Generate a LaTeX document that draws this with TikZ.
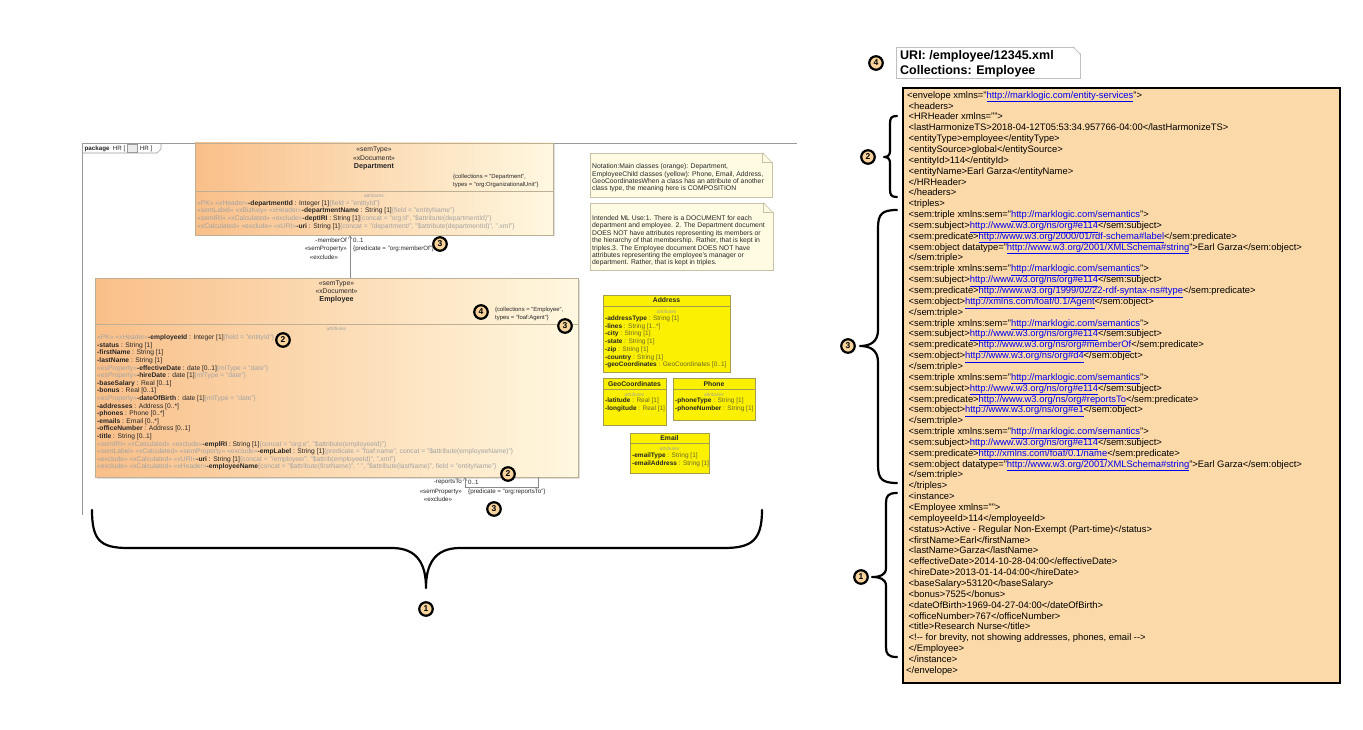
\documentclass[tikz,border=0pt]{standalone}
\usepackage{fontspec}
\setmainfont{Liberation Sans}
\usetikzlibrary{calc,shadows,arrows.meta}
\definecolor{orL}{HTML}{F9BF89}
\definecolor{orR}{HTML}{FFF8E0}
\definecolor{obord}{HTML}{BFAF94}
\definecolor{yel}{HTML}{FAF000}
\definecolor{ybord}{HTML}{A39E4F}
\definecolor{stgray}{HTML}{A3A3A3}
\definecolor{txtd}{HTML}{262626}
\definecolor{ytype}{HTML}{6E6A30}
\definecolor{xmlfill}{HTML}{FCD9A8}
\definecolor{mkfill}{HTML}{F8D49C}
\definecolor{linkblue}{HTML}{0000EE}
\definecolor{notefill}{HTML}{FFFBE3}
\definecolor{noteb}{HTML}{C8C0A8}
\definecolor{framegray}{HTML}{9A9A9A}
\definecolor{assocgray}{HTML}{8A8A8A}
\newcommand{\stg}[1]{\textcolor{stgray}{#1}}
\newcommand{\nmb}[1]{\textbf{#1}}
\newcommand{\yt}[1]{\textcolor{ytype}{#1}}
\newcommand{\lnk}[1]{\textcolor{linkblue}{\underline{#1}}}
\begin{document}
\begin{tikzpicture}[x=1pt,y=-1pt,
  uml/.style={font=\fontsize{6.7}{7.6}\selectfont, inner sep=0, align=left, text=txtd, anchor=west},
  colltext/.style={font=\fontsize{5.9}{8}\selectfont, inner sep=0, align=left, text=txtd, anchor=west},
  umlhead/.style={font=\fontsize{6.8}{8.3}\selectfont, inner sep=0, align=center, text=txtd},
  obox/.style={draw=obord, line width=0.5pt, left color=orL, right color=orR, inner sep=0,
     drop shadow={opacity=0.25, shadow xshift=1.5pt, shadow yshift=-1.5pt}},
  ybox/.style={draw=ybord, fill=yel, inner sep=0, line width=0.5pt},
  attrlbl/.style={font=\fontsize{4.8}{5}\selectfont\itshape, text=stgray, inner sep=0},
  ytitle/.style={font=\fontsize{6.8}{7}\selectfont\bfseries, inner sep=0, text=txtd},
  ylines/.style={font=\fontsize{6.5}{7.7}\selectfont, inner sep=0, align=left, anchor=west, text=txtd},
  numdot/.style={circle, draw=black, line width=2.2pt, fill=mkfill, minimum size=13.5pt, inner sep=0,
     font=\fontsize{8.5}{8.5}\selectfont\bfseries},
  notebox/.style={draw=noteb, fill=notefill, line width=0.5pt, inner sep=0},
  notetext/.style={font=\fontsize{6.8}{7.4}\selectfont, inner sep=0, align=left, anchor=west, text=txtd},
  bracepath/.style={line width=2.2pt, line cap=round, line join=round},
  assoc/.style={draw=assocgray, line width=0.6pt},
  lbl/.style={font=\fontsize{6.2}{6.5}\selectfont, inner sep=0, text=txtd},
]
\useasboundingbox (0,0) rectangle (1363,730);
\fill[white] (0,0) rectangle (1363,730);

% ---------- package frame ----------
\draw[framegray, line width=0.6pt] (82,515) -- (82,143) -- (797,143);
\draw[framegray, line width=0.6pt] (82,153) -- (157,153) -- (161,149) -- (161,143);
\node[lbl, anchor=west] (pk1) at (84.5,148.5) {\textbf{package}\ \ HR [};
\node[draw=framegray, fill=black!8, minimum width=10pt, minimum height=8pt, inner sep=0, line width=0.3pt]
  (pkicon) at ($(pk1.east)+(7,0)$) {};
\node[lbl, anchor=west] (pk2) at ($(pkicon.east)+(2,0)$) {HR ]};

% ---------- Department ----------
\node[obox, minimum width=358, minimum height=92] (dep) at (374,189) {};
\draw[obord, line width=0.4pt] (195,191) -- (553,191);
\node[umlhead] (depH) at (374,158.5) {«semType»\\«xDocument»\\{\fontsize{7.2}{8.3}\selectfont\bfseries Department}};
\node[colltext] (depC) at (453,181) {\{collections = "Department",\\types = "org:OrganizationalUnit"\}};
\node[attrlbl] (depA) at (374,196) {attributes};
\node[uml] (depL) at (197,215) {%
\stg{«PK» «xHeader»}\nmb{-departmentId} : Integer [1]\stg{\{field = "entityId"\}}\\
\stg{«semLabel» «xBizKey» «xHeader»}\nmb{-departmentName} : String [1]\stg{\{field = "entityName"\}}\\
\stg{«semIRI» «xCalculated» «exclude»}\nmb{-deptIRI} : String [1]\stg{\{concat = "org:d", "\$attribute(departmentId)"\}}\\
\stg{«xCalculated» «exclude» «xURI»}\nmb{-uri} : String [1]\stg{\{concat = "/department/", "\$attribute(departmentId)", ".xml"\}}};

% ---------- Employee ----------
\node[obox, minimum width=483, minimum height=199] (emp) at (336.5,377.5) {};
\draw[obord, line width=0.4pt] (95,324) -- (578,324);
\node[umlhead] (empH) at (336.5,292) {«semType»\\«xDocument»\\{\fontsize{7.2}{8.3}\selectfont\bfseries Employee}};
\node[colltext] (empC) at (495,314) {\{collections = "Employee",\\types = "foaf:Agent"\}};
\node[attrlbl] (empA) at (336.5,329) {attributes};
\node[uml] (empL) at (97,402.5) {%
\stg{«PK» «xHeader»}\nmb{-employeeId} : Integer [1]\stg{\{field = "entityId"\}}\\
\nmb{-status} : String [1]\\
\nmb{-firstName} : String [1]\\
\nmb{-lastName} : String [1]\\
\stg{«esProperty»}\nmb{-effectiveDate} : date [0..1]\stg{\{mlType = "date"\}}\\
\stg{«esProperty»}\nmb{-hireDate} : date [1]\stg{\{mlType = "date"\}}\\
\nmb{-baseSalary} : Real [0..1]\\
\nmb{-bonus} : Real [0..1]\\
\stg{«esProperty»}\nmb{-dateOfBirth} : date [1]\stg{\{mlType = "date"\}}\\
\nmb{-addresses} : Address [0..*]\\
\nmb{-phones} : Phone [0..*]\\
\nmb{-emails} : Email [0..*]\\
\nmb{-officeNumber} : Address [0..1]\\
\nmb{-title} : String [0..1]\\
\stg{«semIRI» «xCalculated» «exclude»}\nmb{-emplRI} : String [1]\stg{\{concat = "org:e", "\$attribute(employeeId)"\}}\\
\stg{«semLabel» «xCalculated» «semProperty» «exclude»}\nmb{-empLabel} : String [1]\stg{\{predicate = "foaf:name", concat = "\$attribute(employeeName)"\}}\\
\stg{«exclude» «xCalculated» «xURI»}\nmb{-uri} : String [1]\stg{\{concat = "/employee/", "\$attrib(employeeId)", ".xml"\}}\\
\stg{«exclude» «xCalculated» «xHeader»}\nmb{-employeeName}\stg{\{concat = "\$attribute(firstName)", " ", "\$attribute(lastName)", field = "entityName"\}}};

% ---------- memberOf association ----------
\coordinate (mo) at (350,0);
\draw[assoc, -{Straight Barb[length=3pt,width=4pt]}] (emp.north -| mo) -- (dep.south -| mo);
\node[lbl, anchor=east] (moN) at (347,240) {-memberOf};
\node[lbl, anchor=west] (moM) at (353,240) {0..1};
\node[lbl, anchor=east] (moS) at (347,249) {«semProperty»};
\node[lbl, anchor=west] (moP) at (353,249) {\{predicate = "org:memberOf"\}};
\node[lbl] (moE) at (324,257) {«exclude»};

% ---------- reportsTo self association ----------
\coordinate (rt1) at (465,487);
\coordinate (rt2) at (538,487);
\draw[assoc, {Straight Barb[length=3pt,width=4pt]}-] (emp.south -| rt1) -- (rt1) -- (rt2) -- (emp.south -| rt2);
\node[lbl, anchor=east] (rtN) at (462,482) {-reportsTo};
\node[lbl, anchor=west] (rtM) at (468,482) {0..1};
\node[lbl, anchor=east] (rtS) at (462,492) {«semProperty»};
\node[lbl, anchor=west] (rtP) at (468,492) {\{predicate = "org:reportsTo"\}};
\node[lbl] (rtE) at (438,499.5) {«exclude»};

% ---------- notes ----------
\node[notebox, minimum width=182, minimum height=44] (n1) at (681,175) {};
\fill[white] ($(n1.north east)+(-10,-1)$) -- ($(n1.north east)+(1,-1)$) -- ($(n1.north east)+(1,10)$) -- cycle;
\draw[noteb, line width=0.5pt] ($(n1.north east)+(-10,0)$) -- ($(n1.north east)+(0,10)$);
\draw[noteb, line width=0.5pt] ($(n1.north east)+(-10,0)$) -- ($(n1.north east)+(-10,10)$) -- ($(n1.north east)+(0,10)$);
\node[notetext] (n1t) at (592,178) {Notation:Main classes (orange): Department,\\EmployeeChild classes (yellow): Phone, Email, Address,\\GeoCoordinatesWhen a class has an attribute of another\\class type, the meaning here is COMPOSITION};

\node[notebox, minimum width=183, minimum height=67] (n2) at (681.5,236.5) {};
\fill[white] ($(n2.north east)+(-10,-1)$) -- ($(n2.north east)+(1,-1)$) -- ($(n2.north east)+(1,10)$) -- cycle;
\draw[noteb, line width=0.5pt] ($(n2.north east)+(-10,0)$) -- ($(n2.north east)+(0,10)$);
\draw[noteb, line width=0.5pt] ($(n2.north east)+(-10,0)$) -- ($(n2.north east)+(-10,10)$) -- ($(n2.north east)+(0,10)$);
\node[notetext] (n2t) at (592,241) {Intended ML Use:1. There is a DOCUMENT for each\\department and employee. 2. The Department document\\DOES NOT have attributes representing its members or\\the hierarchy of that membership. Rather, that is kept in\\triples.3. The Employee document DOES NOT have\\attributes representing the employee's manager or\\department. Rather, that is kept in triples.};

% ---------- yellow classes ----------
\node[ybox, minimum width=127, minimum height=77] (addr) at (666.5,333.5) {};
\draw[ybord, line width=0.4pt] (603,306) -- (730,306);
\node[ytitle] (addrT) at (666.5,300.5) {Address};
\node[attrlbl] (addrA) at (666.5,312) {attributes};
\node[ylines] (addrL) at (605,342) {\nmb{-addressType} \yt{: String [1]}\\\nmb{-lines} \yt{: String [1..*]}\\\nmb{-city} \yt{: String [1]}\\\nmb{-state} \yt{: String [1]}\\\nmb{-zip} \yt{: String [1]}\\\nmb{-country} \yt{: String [1]}\\\nmb{-geoCoordinates} \yt{: GeoCoordinates [0..1]}};

\node[ybox, minimum width=63, minimum height=47] (geo) at (634.5,401.5) {};
\draw[ybord, line width=0.4pt] (603,389) -- (666,389);
\node[ytitle] (geoT) at (634.5,384) {GeoCoordinates};
\node[attrlbl] (geoA) at (634.5,395) {attributes};
\node[ylines] (geoL) at (605,405) {\nmb{-latitude} \yt{: Real [1]}\\\nmb{-longitude} \yt{: Real [1]}};

\node[ybox, minimum width=82, minimum height=42] (phone) at (714,399) {};
\draw[ybord, line width=0.4pt] (673,389) -- (755,389);
\node[ytitle] (phoneT) at (714,384) {Phone};
\node[attrlbl] (phoneA) at (714,395) {attributes};
\node[ylines] (phoneL) at (675,405) {\nmb{-phoneType} \yt{: String [1]}\\\nmb{-phoneNumber} \yt{: String [1]}};

\node[ybox, minimum width=79, minimum height=40] (email) at (669.5,453) {};
\draw[ybord, line width=0.4pt] (630,443) -- (709,443);
\node[ytitle] (emailT) at (669.5,438) {Email};
\node[attrlbl] (emailA) at (669.5,449) {attributes};
\node[ylines] (emailL) at (632,460) {\nmb{-emailType} \yt{: String [1]}\\\nmb{-emailAddress} \yt{: String [1]}};

% ---------- markers on diagram ----------
\node[numdot] (k1) at (440,244) {3};
\node[numdot] (k2) at (481,312) {4};
\node[numdot] (k3) at (565,326) {3};
\node[numdot] (k4) at (283,340) {2};
\node[numdot] (k5) at (508,474) {2};
\node[numdot] (k6) at (494,509) {3};
\node[numdot] (k7) at (426,609) {1};

% bottom brace
\draw[bracepath] (92,510) .. controls (92,540) and (100,548) .. (128,548) -- (392,548)
  .. controls (418,548) and (426,565) .. (426,588)
  .. controls (426,565) and (434,548) .. (460,548) -- (724,548)
  .. controls (752,548) and (762,540) .. (762,510);

% ---------- URI note ----------
\node[draw=black!25, fill=white, line width=0.6pt, minimum width=184, minimum height=31, inner sep=0] (uri) at (988.5,62.5) {};
\fill[white] ($(uri.north east)+(-8,-1)$) -- ($(uri.north east)+(1,-1)$) -- ($(uri.north east)+(1,8)$) -- cycle;
\draw[black!25, line width=0.6pt] ($(uri.north east)+(-8,0)$) -- ($(uri.north east)+(0,8)$);
\node[font=\fontsize{12.5}{15}\selectfont\bfseries, align=left, anchor=west, inner sep=0] (urit) at (900,63.5) {URI: /employee/12345.xml\\Collections: Employee};
\node[numdot] (k8) at (876,63) {4};

% ---------- XML box ----------
\node[draw=black, line width=2.5pt, fill=xmlfill, minimum width=437, minimum height=595, inner sep=0] (xml) at (1121.5,385.5) {};
\node[anchor=north west, inner sep=0, align=left, font=\fontsize{9.4}{10.85}\selectfont] (xmlt) at (908.5,91.2) {%
\hspace*{-1.5pt}<envelope xmlns="\lnk{http://marklogic.com/entity-services}">\\
<headers>\\
<HRHeader xmlns="">\\
<lastHarmonizeTS>2018-04-12T05:53:34.957766-04:00</lastHarmonizeTS>\\
<entityType>employee</entityType>\\
<entitySource>global</entitySource>\\
<entityId>114</entityId>\\
<entityName>Earl Garza</entityName>\\
</HRHeader>\\
</headers>\\
<triples>\\
<sem:triple xmlns:sem="\lnk{http://marklogic.com/semantics}">\\
<sem:subject>\lnk{http://www.w3.org/ns/org\#e114}</sem:subject>\\
<sem:predicate>\lnk{http://www.w3.org/2000/01/rdf-schema\#label}</sem:predicate>\\
<sem:object datatype="\lnk{http://www.w3.org/2001/XMLSchema\#string}">Earl Garza</sem:object>\\
</sem:triple>\\
<sem:triple xmlns:sem="\lnk{http://marklogic.com/semantics}">\\
<sem:subject>\lnk{http://www.w3.org/ns/org\#e114}</sem:subject>\\
<sem:predicate>\lnk{http://www.w3.org/1999/02/22-rdf-syntax-ns\#type}</sem:predicate>\\
<sem:object>\lnk{http://xmlns.com/foaf/0.1/Agent}</sem:object>\\
</sem:triple>\\
<sem:triple xmlns:sem="\lnk{http://marklogic.com/semantics}">\\
<sem:subject>\lnk{http://www.w3.org/ns/org\#e114}</sem:subject>\\
<sem:predicate>\lnk{http://www.w3.org/ns/org\#memberOf}</sem:predicate>\\
<sem:object>\lnk{http://www.w3.org/ns/org\#d4}</sem:object>\\
</sem:triple>\\
<sem:triple xmlns:sem="\lnk{http://marklogic.com/semantics}">\\
<sem:subject>\lnk{http://www.w3.org/ns/org\#e114}</sem:subject>\\
<sem:predicate>\lnk{http://www.w3.org/ns/org\#reportsTo}</sem:predicate>\\
<sem:object>\lnk{http://www.w3.org/ns/org\#e1}</sem:object>\\
</sem:triple>\\
<sem:triple xmlns:sem="\lnk{http://marklogic.com/semantics}">\\
<sem:subject>\lnk{http://www.w3.org/ns/org\#e114}</sem:subject>\\
<sem:predicate>\lnk{http://xmlns.com/foaf/0.1/name}</sem:predicate>\\
<sem:object datatype="\lnk{http://www.w3.org/2001/XMLSchema\#string}">Earl Garza</sem:object>\\
</sem:triple>\\
</triples>\\
<instance>\\
<Employee xmlns="">\\
<employeeId>114</employeeId>\\
<status>Active - Regular Non-Exempt (Part-time)</status>\\
<firstName>Earl</firstName>\\
<lastName>Garza</lastName>\\
<effectiveDate>2014-10-28-04:00</effectiveDate>\\
<hireDate>2013-01-14-04:00</hireDate>\\
<baseSalary>53120</baseSalary>\\
<bonus>7525</bonus>\\
<dateOfBirth>1969-04-27-04:00</dateOfBirth>\\
<officeNumber>767</officeNumber>\\
<title>Research Nurse</title>\\
<!-{}- for brevity, not showing addresses, phones, email -{}->\\
</Employee>\\
</instance>\\
\hspace*{-2.5pt}</envelope>};

% right braces
\draw[bracepath] (897,116) .. controls (891,116) and (890,118) .. (890,124) -- (890,151)
  .. controls (890,155) and (888,157) .. (884,157)
  .. controls (888,157) and (890,159) .. (890,163) -- (890,189)
  .. controls (890,195) and (891,197) .. (897,197);
\node[numdot] (k9) at (868,157) {2};

\draw[bracepath] (897,210) .. controls (882,210) and (878,214) .. (878,228) -- (878,330)
  .. controls (878,342) and (870,346) .. (860,346)
  .. controls (870,346) and (878,350) .. (878,362) -- (878,465)
  .. controls (878,479) and (882,483) .. (897,483);
\node[numdot] (k10) at (848,346) {3};

\draw[bracepath] (897,493) .. controls (888,493) and (886,496) .. (886,503) -- (886,568)
  .. controls (886,575) and (880,577) .. (872,577)
  .. controls (880,577) and (886,579) .. (886,586) -- (886,647)
  .. controls (886,654) and (888,657) .. (897,657);
\node[numdot] (k11) at (861,577) {1};
\end{tikzpicture}
\end{document}
